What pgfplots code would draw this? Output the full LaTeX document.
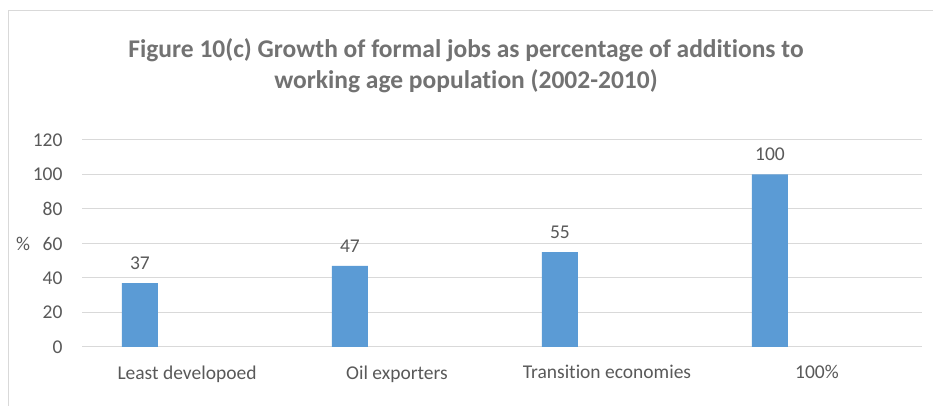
\documentclass[border=0pt]{standalone}
\usepackage{pgfplots}
\pgfplotsset{compat=1.18}
\usepackage{fontspec}
\setmainfont[Ligatures=NoCommon]{Carlito}
\definecolor{barblue}{HTML}{5B9BD5}
\definecolor{gridgray}{HTML}{D9D9D9}
\definecolor{txtgray}{HTML}{595959}
\definecolor{framegray}{HTML}{D9D9D9}
\begin{document}
\begin{tikzpicture}
\path[use as bounding box] (0,0) rectangle (933bp,406bp);
\fill[white] (0,0) rectangle (933bp,406bp);
\draw[framegray, line width=1bp] (8bp,0) -- (8bp,395bp) -- (933bp,395bp);
\node[font=\fontsize{25.5bp}{30bp}\selectfont\bfseries, text=txtgray!85] at (466bp,356bp) {Figure 10(c) Growth of formal jobs as percentage of additions to};
\node[font=\fontsize{25.5bp}{30bp}\selectfont\bfseries, text=txtgray!85] at (466bp,325bp) {working age population (2002-2010)};
\begin{axis}[
  at={(82bp,59bp)}, anchor=south west,
  scale only axis, width=840bp, height=207bp,
  xmin=-0.5, xmax=3.5, ymin=0, ymax=120,
  ytick={0,20,...,120},
  xtick={0,1,2,3},
  xticklabels={Least developoed, Oil exporters, Transition economies, 100\%},
  axis line style={draw=none},
  major tick length=0pt,
  ymajorgrids, grid style={gridgray, line width=1bp},
  /pgf/number format/assume math mode=true,
  ticklabel style={font=\fontsize{19.5bp}{23bp}\selectfont, text=txtgray},
  yticklabel style={xshift=-16bp},
  xticklabel style={yshift=-15bp},
  ylabel={\%},
  every axis y label/.style={at={(axis description cs:0,0.5)}, anchor=center, xshift=-59bp, font=\fontsize{19.5bp}{23bp}\selectfont, text=txtgray},
  clip=false,
]
\addplot[ybar, bar width=36bp, bar shift=0pt, fill=barblue, draw=none,
  nodes near coords,
  nodes near coords style={anchor=center, yshift=20bp, font=\fontsize{19.5bp}{23bp}\selectfont, text=txtgray}]
  coordinates {(-0.224,37) (0.776,47) (1.776,55) (2.776,100)};
\end{axis}
\end{tikzpicture}
\end{document}
